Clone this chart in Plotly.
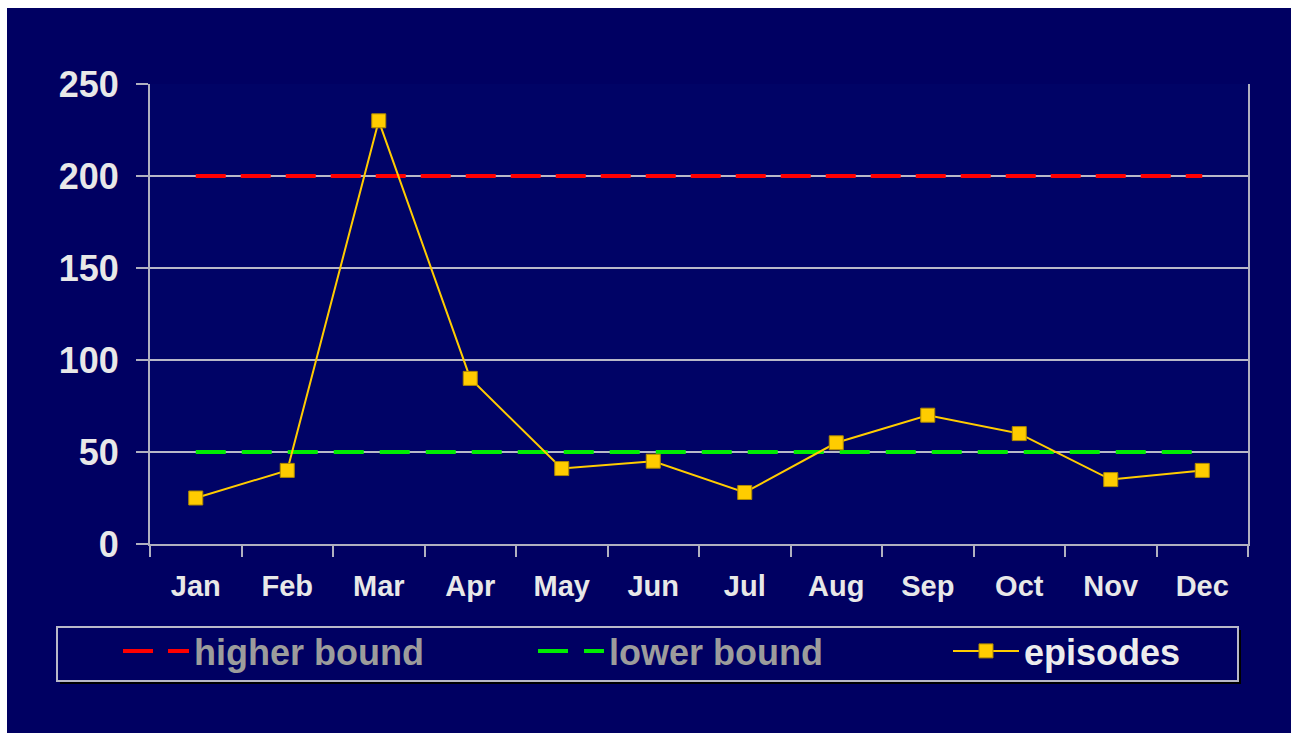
import plotly.graph_objects as go

months = ["Jan", "Feb", "Mar", "Apr", "May", "Jun", "Jul", "Aug", "Sep", "Oct", "Nov", "Dec"]
higher_bound = [200] * 12
lower_bound = [50] * 12
episodes = [25, 40, 230, 90, 41, 45, 28, 55, 70, 60, 35, 40]
y_ticks = [0, 50, 100, 150, 200, 250]

NAVY = "#000062"
PLOT_BG = "#000366"
FONT = "Liberation Sans, Arial, sans-serif"

fig = go.Figure()
fig.add_trace(go.Scatter(
    x=months, y=higher_bound, mode="lines",
    name="<span style='color:#9c9c9c'>higher bound</span>",
    line=dict(color="#ff0000", width=4, dash="30px,15px"),
))
fig.add_trace(go.Scatter(
    x=months, y=lower_bound, mode="lines",
    name="<span style='color:#9c9c9c'>lower bound</span>",
    line=dict(color="#00ee00", width=4, dash="30px,16px"),
))
fig.add_trace(go.Scatter(
    x=months, y=episodes, mode="lines+markers",
    name="<span style='color:#ececec'>episodes</span>",
    line=dict(color="#ffcc00", width=2),
    marker=dict(symbol="square", size=14, color="#ffcc00",
                line=dict(color="#b08a00", width=1)),
))

W, H = 1291, 733
L, R, T, B = 150, 43, 84, 189
pw, ph = W - L - R, H - T - B

def px_x(px):
    return (px - L) / pw

def px_y(py):
    return (H - B - py) / ph

shapes = [
    # white strips at left and top of the page
    dict(type="rect", xref="paper", yref="paper", layer="below",
         x0=px_x(-5), x1=px_x(7), y0=px_y(H + 5), y1=px_y(-5),
         fillcolor="#ffffff", line=dict(width=0)),
    dict(type="rect", xref="paper", yref="paper", layer="below",
         x0=px_x(-5), x1=px_x(W + 5), y0=px_y(8), y1=px_y(-5),
         fillcolor="#ffffff", line=dict(width=0)),
    # legend shadow
    dict(type="rect", xref="paper", yref="paper", layer="above",
         x0=px_x(60), x1=px_x(1241), y0=px_y(684), y1=px_y(630),
         fillcolor="#000000", line=dict(width=0)),
    # legend box
    dict(type="rect", xref="paper", yref="paper", layer="above",
         x0=px_x(57), x1=px_x(1238), y0=px_y(681), y1=px_y(627),
         fillcolor=NAVY, line=dict(color="#b8b8c8", width=2)),
]

fig.update_layout(
    width=W, height=H,
    margin=dict(l=L, r=R, t=T, b=B, autoexpand=False),
    paper_bgcolor=NAVY,
    plot_bgcolor=PLOT_BG,
    shapes=shapes,
    showlegend=True,
    legend=dict(
        orientation="h",
        x=px_x(118), y=px_y(621), xanchor="left", yanchor="top",
        bgcolor="rgba(0,0,0,0)", borderwidth=0,
        font=dict(family=FONT, size=36, weight="bold", color="#9c9c9c"),
        entrywidth=334, entrywidthmode="pixels",
        itemwidth=66,
        tracegroupgap=0,
    ),
    xaxis=dict(
        type="category", range=[-0.5, 11.5],
        showgrid=False,
        showline=True, linecolor="#b0b0c0", linewidth=2,
        ticks="outside", tickson="boundaries", ticklen=11, tickwidth=2,
        tickcolor="#b0b0c0",
        tickfont=dict(family=FONT, size=29, weight="bold", color="#e8e8e8"),
        ticklabelstandoff=15,
        zeroline=False,
    ),
    yaxis=dict(
        range=[0, 250], tickvals=y_ticks,
        showgrid=True, gridcolor="#b8b8c8", gridwidth=1.5,
        showline=True, linecolor="#b0b0c0", linewidth=2, mirror=True,
        ticks="outside", ticklen=12, tickwidth=2, tickcolor="#b0b0c0",
        tickfont=dict(family=FONT, size=36, weight="bold", color="#e8e8e8"),
        ticklabelstandoff=10,
        zeroline=False,
    ),
)

fig.write_html("out.html")
